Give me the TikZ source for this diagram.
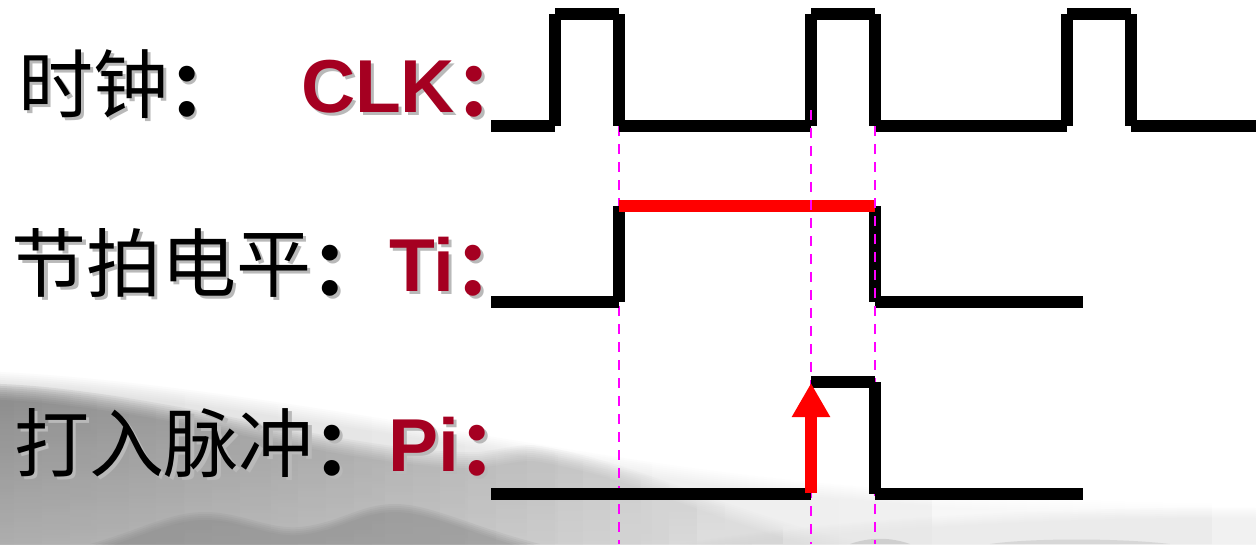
\documentclass[tikz,border=0pt]{standalone}
\usepackage{fontspec}
\newfontfamily\cjkfont{Noto Sans CJK SC}
\newfontfamily\headfont{Liberation Sans}
\usetikzlibrary{arrows.meta,fadings}

\definecolor{labelred}{RGB}{165,0,33}
\definecolor{pulsered}{RGB}{255,0,0}
\definecolor{guide}{RGB}{255,0,255}
\definecolor{textshadow}{RGB}{185,185,185}

\tikzfading[name=mistfade, left color=transparent!0, middle color=transparent!20, right color=transparent!100]
\tikzfading[name=hazefade, left color=transparent!10, right color=transparent!100]

% text with a soft drop shadow set behind it in the same box
\newcommand\shadowed[2]{%
  \rlap{\kern3pt\raisebox{-3pt}{\color{textshadow}#2}}{\color{#1}#2}}
% bold full-width colon, set a little lower
\newcommand\cjkcolon{{\cjkfont\bfseries\raisebox{-4pt}{：}}}

\begin{document}
\begin{tikzpicture}[x=1pt, y=-1pt,
  labeltext/.style={anchor=base west, inner sep=0pt, outer sep=0pt,
    font=\fontsize{75pt}{80pt}\selectfont},
  wave/.style={line width=12pt, line cap=butt, black},
  level/.style={line width=12pt, line cap=butt, pulsered},
  guideline/.style={guide, line width=2pt, dash pattern=on 10pt off 8pt},
  strobe/.style={line width=12pt, pulsered, -{Triangle[length=34pt, width=36pt]}}]

\useasboundingbox (0,0) rectangle (1256,544);
\fill[white] (0,0) rectangle (1256,544);

% ---- ink-wash mist along the bottom ----
\foreach \d in {0,2,...,14}{
  \fill[black!30, opacity=0.06, path fading=hazefade, yshift=-\d pt]
    (0,372) .. controls (200,382) and (450,432) .. (650,462)
    .. controls (850,492) and (1050,502) .. (1256,504) -- (1256,544) -- (0,544) -- cycle;}
\foreach \d in {0,2,...,10}{
  \fill[black!12, opacity=0.08, yshift=-\d pt]
    (680,544) .. controls (820,520) and (1050,506) .. (1256,508)
    -- (1256,544) -- cycle;}
\foreach \d in {0,2,...,16}{
  \shade[top color=black!58, bottom color=black!38, opacity=0.12,
         path fading=mistfade, yshift=-\d pt]
    (0,384) .. controls (60,386) and (150,400) .. (250,421)
    .. controls (350,441) and (430,454) .. (480,452)
    .. controls (510,448) and (525,443) .. (540,446)
    .. controls (600,456) and (650,476) .. (720,501)
    .. controls (780,521) and (830,538) .. (880,544) -- (0,544) -- cycle;}
\foreach \d in {0,2,...,8}{
  \fill[black!50, opacity=0.12, yshift=-\d pt]
    (90,544) .. controls (140,530) and (170,512) .. (205,512)
    .. controls (240,512) and (270,530) .. (300,527)
    .. controls (340,523) and (360,504) .. (395,504)
    .. controls (430,504) and (470,526) .. (540,544) -- cycle;}
\fill[black!30, opacity=0.45] (850,544) .. controls (870,537) and (890,537) .. (910,544) -- cycle;
\fill[black!25, opacity=0.45] (990,544) .. controls (1030,538) and (1120,538) .. (1170,544) -- cycle;

% ---- labels ----
\node[labeltext] (clkname) at (18,112) {\shadowed{black}{{\cjkfont 时钟}\cjkcolon}};
\node[labeltext] (clksig)  at (301,112) {\shadowed{labelred}{{\headfont\bfseries CLK}\cjkcolon}};
\node[labeltext] (tname)   at (12,291) {\shadowed{black}{{\cjkfont 节拍电平}\cjkcolon}};
\node[labeltext] (tsig)    at (389,291) {\shadowed{labelred}{{\headfont\bfseries Ti}\cjkcolon}};
\node[labeltext] (pname)   at (14,471) {\shadowed{black}{{\cjkfont 打入脉冲}\cjkcolon}};
\node[labeltext] (psig)    at (388,471) {\shadowed{labelred}{{\headfont\bfseries Pi}\cjkcolon}};

% ---- timing guides ----
\coordinate (g1top) at (619,126);  \coordinate (g1bot) at (619,544);
\coordinate (g2top) at (811,110);  \coordinate (g2bot) at (811,544);
\coordinate (g3top) at (875,126);  \coordinate (g3bot) at (875,544);
\draw[guideline] (g1top) -- (g1bot);

% ---- clock ----
\draw[wave] (491,126) -- (555,126);
\foreach \r in {555,811,1067}{
  \pgfmathsetmacro\f{\r+64}
  \draw[wave] (\r,126) -- (\r,14);
  \draw[wave] (\r,14) -- (\f,14);
  \draw[wave] (\f,14) -- (\f,126);}
\draw[wave] (619,126) -- (811,126);
\draw[wave] (875,126) -- (1067,126);
\draw[wave] (1131,126) -- (1256,126);

% ---- beat level Ti ----
\draw[wave] (491,302) -- (619,302);
\draw[wave] (619,302) -- (619,206);
\draw[wave] (875,206) -- (875,302);
\draw[wave] (875,302) -- (1083,302);
\draw[level] (619,206) -- (875,206);

\draw[guideline] (g2top) -- (g2bot);
\draw[guideline] (g3top) -- (g3bot);

% ---- strobe pulse Pi ----
\draw[wave] (491,494) -- (811,494);
\draw[wave] (811,382) -- (875,382);
\draw[wave] (875,382) -- (875,494);
\draw[wave] (875,494) -- (1083,494);
\coordinate (sfoot) at (811,493);
\coordinate (stip) at (811,383);
\draw[strobe] (sfoot) -- (stip);

\end{tikzpicture}
\end{document}
